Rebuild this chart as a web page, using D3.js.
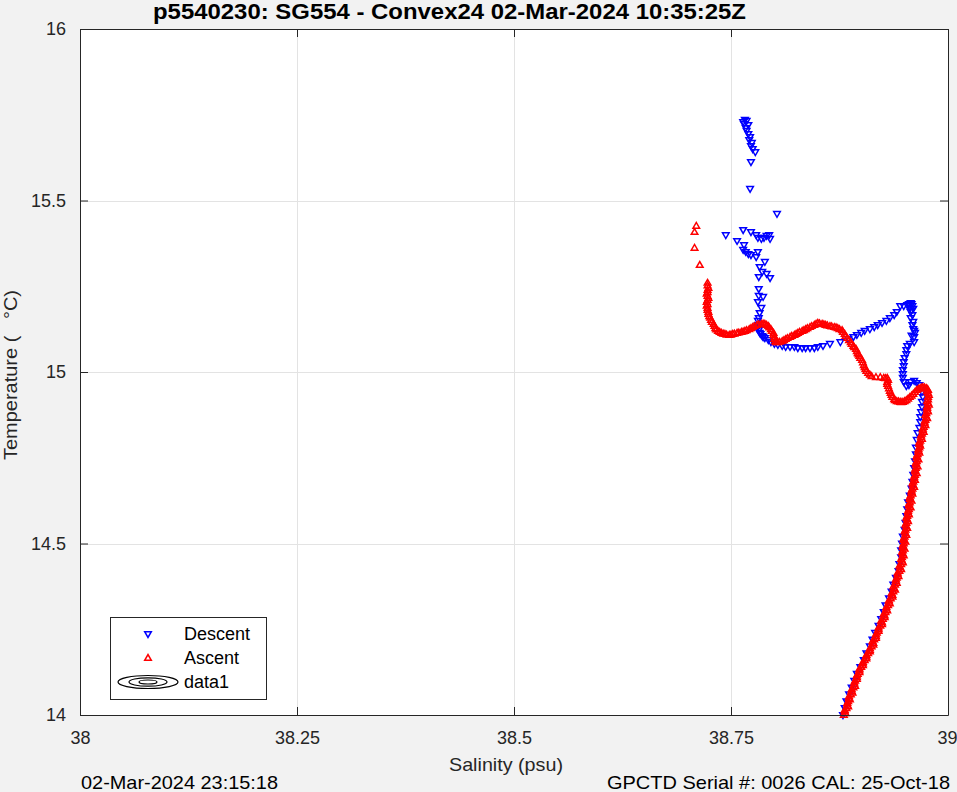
<!DOCTYPE html>
<html>
<head>
<meta charset="utf-8">
<script src="https://cdn.jsdelivr.net/npm/d3@7/dist/d3.min.js"></script>
<style>
  html,body{margin:0;padding:0;background:#f2f2f2;}
  svg{display:block;}
  text{font-family:"Liberation Sans",Arial,Helvetica,sans-serif;fill:#262626;}
</style>
</head>
<body>
<svg id="chart" width="957" height="792"></svg>
<script>
// ---- data ----
const titleText = "p5540230: SG554 - Convex24 02-Mar-2024 10:35:25Z";
const xLabel = "Salinity (psu)";
const yLabel = "Temperature (   \u00B0C)";
const footLeft = "02-Mar-2024 23:15:18";
const footRight = "GPCTD Serial #: 0026 CAL: 25-Oct-18";
const xTicks = [38, 38.25, 38.5, 38.75, 39];
const xTickLabels = ["38", "38.25", "38.5", "38.75", "39"];
const yTicks = [14, 14.5, 15, 15.5, 16];
const yTickLabels = ["14", "14.5", "15", "15.5", "16"];
const legendLabels = ["Descent", "Ascent", "data1"];

// Descent: [salinity, temperature]
const descent = [
[38.764,15.729],[38.766,15.735],[38.768,15.732],[38.765,15.723],[38.770,15.720],[38.767,15.711],[38.768,15.703],[38.770,15.694],
[38.772,15.685],[38.771,15.676],[38.774,15.668],[38.773,15.659],[38.775,15.650],[38.778,15.641],[38.773,15.612],[38.772,15.534],
[38.803,15.461],[38.744,15.399],[38.764,15.414],[38.773,15.408],[38.779,15.399],[38.781,15.391],[38.785,15.388],[38.788,15.391],
[38.791,15.397],[38.794,15.399],[38.795,15.388],[38.757,15.382],[38.765,15.370],[38.764,15.356],[38.767,15.350],[38.770,15.344],
[38.773,15.341],[38.781,15.350],[38.779,15.335],[38.789,15.321],[38.783,15.306],[38.786,15.292],[38.791,15.286],[38.782,15.277],
[38.795,15.274],[38.782,15.242],[38.787,15.219],[38.782,15.222],[38.781,15.204],[38.785,15.187],[38.783,15.172],[38.782,15.157],
[38.781,15.149],[38.781,15.137],[38.781,15.131],[38.780,15.128],[38.782,15.122],[38.783,15.114],[38.784,15.111],[38.786,15.105],
[38.787,15.102],[38.789,15.099],[38.793,15.093],[38.796,15.087],[38.800,15.082],[38.804,15.079],[38.809,15.076],[38.813,15.073],
[38.818,15.073],[38.823,15.073],[38.827,15.070],[38.832,15.070],[38.836,15.070],[38.841,15.070],[38.846,15.070],[38.850,15.073],
[38.856,15.076],[38.864,15.082],[38.876,15.087],[38.885,15.096],[38.891,15.102],[38.895,15.108],[38.900,15.114],[38.904,15.120],
[38.910,15.125],[38.915,15.131],[38.919,15.137],[38.924,15.143],[38.929,15.149],[38.933,15.157],[38.938,15.166],[38.941,15.175],
[38.945,15.192],[38.949,15.192],[38.953,15.195],[38.955,15.198],[38.957,15.201],[38.958,15.198],[38.959,15.192],[38.956,15.188],
[38.960,15.184],[38.958,15.180],[38.957,15.175],[38.959,15.166],[38.957,15.157],[38.960,15.146],[38.959,15.137],[38.960,15.125],
[38.961,15.120],[38.962,15.114],[38.958,15.106],[38.961,15.102],[38.961,15.087],[38.956,15.082],[38.953,15.076],[38.952,15.064],
[38.952,15.052],[38.950,15.041],[38.949,15.029],[38.949,15.017],[38.948,15.006],[38.948,14.994],[38.948,14.983],[38.949,14.971],
[38.952,14.959],[38.955,14.962],[38.957,14.971],[38.961,14.974],[38.964,14.968],[38.967,14.962],[38.969,14.953],[38.970,14.942],
[38.971,14.927],[38.970,14.913],[38.970,14.898],[38.969,14.883],[38.968,14.869],[38.968,14.854],[38.967,14.837],[38.965,14.822],
[38.964,14.802],[38.963,14.78],[38.963,14.76],[38.962,14.74],[38.961,14.72],[38.960,14.70],[38.959,14.68],[38.958,14.66],
[38.956,14.64],[38.954,14.62],[38.953,14.60],[38.952,14.58],[38.951,14.56],[38.950,14.54],[38.948,14.52],[38.947,14.50],
[38.946,14.48],[38.946,14.46],[38.944,14.44],[38.943,14.42],[38.940,14.40],[38.937,14.38],[38.935,14.36],[38.932,14.34],
[38.928,14.32],[38.926,14.30],[38.923,14.28],[38.920,14.26],[38.916,14.24],[38.913,14.22],[38.910,14.20],[38.906,14.18],
[38.903,14.16],[38.899,14.14],[38.895,14.12],[38.892,14.10],[38.889,14.08],[38.886,14.06],[38.883,14.04],[38.881,14.02],
[38.879,14.00]
];

// Ascent: [salinity, temperature]
const ascent = [
[38.880,14.000],[38.882,14.005],[38.881,14.010],[38.881,14.015],[38.883,14.020],[38.885,14.025],[38.884,14.030],[38.884,14.035],
[38.885,14.040],[38.887,14.045],[38.886,14.050],[38.886,14.055],[38.888,14.060],[38.890,14.065],[38.889,14.070],[38.889,14.075],
[38.891,14.080],[38.893,14.085],[38.892,14.090],[38.892,14.095],[38.893,14.100],[38.895,14.105],[38.895,14.110],[38.895,14.115],
[38.896,14.120],[38.898,14.125],[38.898,14.130],[38.898,14.135],[38.900,14.140],[38.902,14.145],[38.902,14.150],[38.902,14.155],
[38.904,14.160],[38.906,14.165],[38.906,14.170],[38.906,14.175],[38.908,14.180],[38.910,14.185],[38.910,14.190],[38.910,14.195],
[38.912,14.200],[38.914,14.205],[38.914,14.210],[38.913,14.215],[38.915,14.220],[38.917,14.225],[38.917,14.230],[38.917,14.235],
[38.918,14.240],[38.920,14.245],[38.920,14.250],[38.920,14.255],[38.922,14.260],[38.924,14.265],[38.924,14.270],[38.923,14.275],
[38.925,14.280],[38.927,14.285],[38.927,14.290],[38.926,14.295],[38.928,14.300],[38.930,14.305],[38.929,14.310],[38.929,14.315],
[38.931,14.320],[38.933,14.325],[38.932,14.330],[38.932,14.335],[38.934,14.340],[38.936,14.345],[38.936,14.350],[38.935,14.355],
[38.937,14.360],[38.939,14.365],[38.938,14.370],[38.937,14.375],[38.939,14.380],[38.941,14.385],[38.940,14.390],[38.940,14.395],
[38.941,14.400],[38.943,14.405],[38.942,14.410],[38.942,14.415],[38.944,14.420],[38.946,14.425],[38.945,14.430],[38.944,14.435],
[38.946,14.440],[38.948,14.445],[38.947,14.450],[38.946,14.455],[38.947,14.460],[38.949,14.465],[38.948,14.470],[38.947,14.475],
[38.948,14.480],[38.950,14.485],[38.948,14.490],[38.948,14.495],[38.949,14.500],[38.951,14.505],[38.949,14.510],[38.949,14.515],
[38.950,14.520],[38.952,14.525],[38.951,14.530],[38.950,14.535],[38.951,14.540],[38.953,14.545],[38.952,14.550],[38.951,14.555],
[38.952,14.560],[38.954,14.565],[38.953,14.570],[38.952,14.575],[38.953,14.580],[38.955,14.585],[38.954,14.590],[38.954,14.595],
[38.955,14.600],[38.957,14.605],[38.955,14.610],[38.955,14.615],[38.956,14.620],[38.958,14.625],[38.956,14.630],[38.956,14.635],
[38.957,14.640],[38.959,14.645],[38.958,14.650],[38.958,14.655],[38.959,14.660],[38.961,14.665],[38.960,14.670],[38.959,14.675],
[38.960,14.680],[38.962,14.685],[38.961,14.690],[38.961,14.695],[38.962,14.700],[38.964,14.705],[38.962,14.710],[38.962,14.715],
[38.963,14.720],[38.965,14.725],[38.963,14.730],[38.963,14.735],[38.964,14.740],[38.966,14.745],[38.964,14.750],[38.964,14.755],
[38.965,14.760],[38.967,14.765],[38.966,14.770],[38.966,14.775],[38.967,14.780],[38.968,14.785],[38.967,14.790],[38.967,14.795],
[38.968,14.800],[38.970,14.805],[38.969,14.810],[38.969,14.815],[38.970,14.820],[38.972,14.825],[38.971,14.830],[38.971,14.835],
[38.972,14.840],[38.974,14.845],[38.973,14.850],[38.973,14.855],[38.974,14.860],[38.976,14.865],[38.975,14.870],[38.974,14.875],
[38.975,14.880],[38.977,14.885],[38.976,14.890],[38.976,14.895],[38.976,14.900],[38.978,14.905],[38.977,14.910],[38.976,14.915],
[38.977,14.920],[38.977,14.927],[38.978,14.933],[38.977,14.939],[38.976,14.944],[38.977,14.948],[38.976,14.951],[38.975,14.953],
[38.973,14.955],[38.971,14.956],[38.970,14.955],[38.968,14.953],[38.966,14.951],[38.964,14.948],[38.962,14.942],[38.960,14.936],
[38.958,14.931],[38.956,14.927],[38.954,14.922],[38.952,14.918],[38.950,14.915],[38.948,14.913],[38.946,14.912],[38.945,14.913],
[38.943,14.914],[38.941,14.915],[38.939,14.918],[38.938,14.921],[38.936,14.927],[38.935,14.933],[38.934,14.939],[38.933,14.945],
[38.932,14.952],[38.931,14.959],[38.930,14.965],[38.930,14.971],[38.931,14.977],[38.930,14.983],[38.928,14.982],[38.926,14.983],
[38.922,14.985],[38.917,14.985],[38.912,14.988],[38.910,14.992],[38.908,14.997],[38.906,15.003],[38.905,15.009],[38.904,15.014],
[38.903,15.020],[38.902,15.028],[38.901,15.035],[38.899,15.041],[38.898,15.047],[38.897,15.051],[38.896,15.055],[38.895,15.061],
[38.894,15.067],[38.892,15.072],[38.891,15.076],[38.889,15.082],[38.888,15.087],[38.886,15.093],[38.884,15.099],[38.882,15.105],
[38.881,15.111],[38.879,15.117],[38.878,15.122],[38.875,15.125],[38.873,15.128],[38.871,15.130],[38.869,15.131],[38.866,15.133],
[38.864,15.134],[38.861,15.136],[38.859,15.137],[38.857,15.139],[38.855,15.140],[38.852,15.142],[38.850,15.143],[38.848,15.140],
[38.846,15.137],[38.843,15.134],[38.841,15.131],[38.838,15.128],[38.836,15.125],[38.834,15.122],[38.832,15.120],[38.829,15.117],
[38.827,15.114],[38.825,15.111],[38.823,15.108],[38.820,15.105],[38.818,15.102],[38.815,15.099],[38.813,15.096],[38.811,15.093],
[38.809,15.090],[38.806,15.088],[38.804,15.087],[38.802,15.087],[38.801,15.090],[38.800,15.096],[38.800,15.102],[38.799,15.108],
[38.799,15.114],[38.797,15.120],[38.796,15.125],[38.794,15.130],[38.793,15.134],[38.791,15.137],[38.789,15.140],[38.787,15.141],
[38.785,15.140],[38.782,15.139],[38.780,15.137],[38.777,15.134],[38.775,15.131],[38.773,15.128],[38.771,15.125],[38.768,15.122],
[38.766,15.120],[38.764,15.118],[38.762,15.117],[38.759,15.115],[38.757,15.114],[38.754,15.112],[38.752,15.111],[38.750,15.109],
[38.748,15.108],[38.745,15.109],[38.743,15.111],[38.741,15.112],[38.739,15.114],[38.737,15.117],[38.735,15.120],[38.733,15.124],
[38.732,15.128],[38.731,15.134],[38.730,15.140],[38.728,15.146],[38.727,15.152],[38.726,15.158],[38.725,15.163],[38.724,15.169],
[38.724,15.175],[38.723,15.181],[38.723,15.187],[38.722,15.193],[38.723,15.198],[38.722,15.204],[38.723,15.210],[38.724,15.216],
[38.723,15.222],[38.722,15.228],[38.723,15.233],[38.723,15.239],[38.724,15.245],[38.723,15.252],[38.723,15.260],[38.714,15.312],
[38.708,15.362],[38.708,15.408],[38.710,15.426]
];

// ---- drawing ----
const svg = d3.select("#chart");
const W = 957, H = 792;
const plot = {left: 80, top: 29, right: 948, bottom: 715};
const axisColor = "#262626";
const FONT = '"Liberation Sans",Arial,Helvetica,sans-serif';

const x = d3.scaleLinear().domain([38, 39]).range([plot.left, plot.right]);
const y = d3.scaleLinear().domain([14, 16]).range([plot.bottom, plot.top]);

svg.append("rect").attr("x",0).attr("y",0).attr("width",W).attr("height",H).attr("fill","#f2f2f2");
svg.append("rect").attr("x",plot.left).attr("y",plot.top)
  .attr("width",plot.right-plot.left).attr("height",plot.bottom-plot.top).attr("fill","#ffffff");

// grid
const grid = svg.append("g").attr("stroke","#e3e3e3").attr("stroke-width",1);
grid.selectAll("line.gx").data(xTicks.slice(1,-1)).enter().append("line")
  .attr("x1",d=>Math.round(x(d))+0.5).attr("x2",d=>Math.round(x(d))+0.5)
  .attr("y1",plot.top).attr("y2",plot.bottom);
grid.selectAll("line.gy").data(yTicks.slice(1,-1)).enter().append("line")
  .attr("y1",d=>Math.round(y(d))+0.5).attr("y2",d=>Math.round(y(d))+0.5)
  .attr("x1",plot.left).attr("x2",plot.right);

// markers
const triDown = "M-3.3,-2.3L3.3,-2.3L0,3.4Z";
const triUp = "M-3.3,2.3L3.3,2.3L0,-3.4Z";
const gD = svg.append("g");
gD.selectAll("path").data(descent).enter().append("path")
  .attr("d",triDown).attr("transform",d=>`translate(${x(d[0])},${y(d[1])})`)
  .attr("fill","none").attr("stroke","#0000ff").attr("stroke-width",1.5);
const gA = svg.append("g");
gA.selectAll("path").data(ascent).enter().append("path")
  .attr("d",triUp).attr("transform",d=>`translate(${x(d[0])},${y(d[1])})`)
  .attr("fill","none").attr("stroke","#ff0000").attr("stroke-width",1.5);

// axes
function styleAxis(g){
  g.select(".domain").attr("stroke",axisColor);
  g.selectAll(".tick line").attr("stroke",axisColor);
  g.selectAll("text").attr("fill",axisColor).style("font-size","18px").style("font-family",FONT);
}
const xAxis = d3.axisBottom(x).tickValues(xTicks).tickFormat((d,i)=>xTickLabels[i]).tickSize(-8).tickSizeOuter(0).tickPadding(16);
const gx = svg.append("g").attr("transform",`translate(0,${plot.bottom})`).call(xAxis);
styleAxis(gx);
// keep the last label inside the page edge
gx.selectAll(".tick text").filter(d=>d===xTicks[xTicks.length-1]).attr("text-anchor","end").attr("dx",9);
const yAxis = d3.axisLeft(y).tickValues(yTicks).tickFormat((d,i)=>yTickLabels[i]).tickSize(-8).tickSizeOuter(0).tickPadding(14);
const gy = svg.append("g").attr("transform",`translate(${plot.left},0)`).call(yAxis);
styleAxis(gy);
const gt = svg.append("g").attr("transform",`translate(0,${plot.top})`)
  .call(d3.axisTop(x).tickValues(xTicks).tickFormat("").tickSize(-8).tickSizeOuter(0));
styleAxis(gt);
const gr = svg.append("g").attr("transform",`translate(${plot.right},0)`)
  .call(d3.axisRight(y).tickValues(yTicks).tickFormat("").tickSize(-8).tickSizeOuter(0));
styleAxis(gr);

// title and labels
svg.append("text").attr("x",449.5).attr("y",19).attr("text-anchor","middle")
  .attr("textLength",593).attr("lengthAdjust","spacingAndGlyphs")
  .style("font-size","22px").style("font-weight","bold").style("fill","#000")
  .text(titleText);
svg.append("text").attr("x",506).attr("y",771).attr("text-anchor","middle")
  .attr("textLength",114).attr("lengthAdjust","spacingAndGlyphs")
  .style("font-size","19px").text(xLabel);
svg.append("text").attr("transform","translate(17,375) rotate(-90)").attr("text-anchor","middle")
  .attr("textLength",170).attr("lengthAdjust","spacingAndGlyphs")
  .style("font-size","19px").style("white-space","pre").attr("xml:space","preserve").text(yLabel);
svg.append("text").attr("x",81).attr("y",789)
  .attr("textLength",197).attr("lengthAdjust","spacingAndGlyphs")
  .style("font-size","19px").style("fill","#000").text(footLeft);
svg.append("text").attr("x",607).attr("y",789)
  .attr("textLength",343).attr("lengthAdjust","spacingAndGlyphs")
  .style("font-size","19px").style("fill","#000").text(footRight);

// legend
const lg = svg.append("g");
lg.append("rect").attr("x",110.5).attr("y",617.5).attr("width",156).attr("height",82)
  .attr("fill","#fff").attr("stroke",axisColor).attr("stroke-width",1);
lg.append("path").attr("d",triDown).attr("transform","translate(148,634)")
  .attr("fill","none").attr("stroke","#0000ff").attr("stroke-width",1.5);
lg.append("path").attr("d",triUp).attr("transform","translate(148,658)")
  .attr("fill","none").attr("stroke","#ff0000").attr("stroke-width",1.5);
[[30,6.5],[19,4.2],[9,2]].forEach(r=>{
  lg.append("ellipse").attr("cx",148).attr("cy",682).attr("rx",r[0]).attr("ry",r[1])
    .attr("fill","none").attr("stroke","#000").attr("stroke-width",1.2);
});
const legY = [640, 664, 688];
legendLabels.forEach((t,i)=>{
  lg.append("text").attr("x",184).attr("y",legY[i]).style("font-size","18px").style("fill","#000").text(t);
});
</script>
</body>
</html>
